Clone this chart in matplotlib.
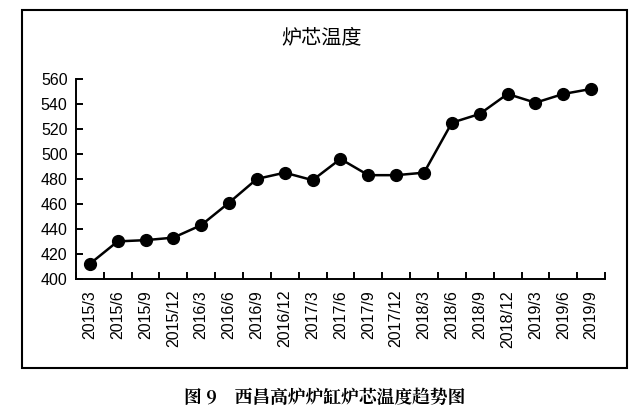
import matplotlib
matplotlib.use('Agg')
import matplotlib.pyplot as plt
from matplotlib.patches import Rectangle

plt.rcParams['font.family'] = ['Liberation Sans', 'Noto Sans CJK SC', 'DejaVu Sans']

# DATA
dates = ['2015/3', '2015/6', '2015/9', '2015/12', '2016/3', '2016/6', '2016/9',
         '2016/12', '2017/3', '2017/6', '2017/9', '2017/12', '2018/3', '2018/6',
         '2018/9', '2018/12', '2019/3', '2019/6', '2019/9']
temps = [412, 430, 431, 433, 443, 461, 480, 485, 479, 496, 483, 483, 485, 525,
         532, 548, 541, 548, 552]
yticks = [400, 420, 440, 460, 480, 500, 520, 540, 560]

fig = plt.figure(figsize=(6.43, 4.2), dpi=100)
ax = fig.add_axes([0.118, 0.336, 0.823, 0.476])

x = list(range(len(dates)))
ax.plot(x, temps, color='black', lw=1.8, marker='o', markersize=8.5)

ax.set_xlim(-0.5, len(dates) - 0.5)
ax.set_ylim(400, 560)
ax.set_yticks(yticks)
ax.set_xticks(x)
ax.set_xticklabels(dates, rotation=90, fontsize=11.5)
ax.set_xticks([i - 0.5 for i in range(len(dates) + 1)], minor=True)
ax.tick_params(axis='x', which='major', length=0, pad=8)
ax.tick_params(axis='x', which='minor', direction='in', length=5, width=1.4)
ax.tick_params(axis='y', direction='in', length=5, width=1.4, labelsize=11.5, pad=6)

for s in ['top', 'right']:
    ax.spines[s].set_visible(False)
for s in ['left', 'bottom']:
    ax.spines[s].set_linewidth(1.4)

# TITLE AND CAPTION
fig.text(0.5, 0.91, '炉芯温度', ha='center', va='center', fontsize=14.5,
         family=['Noto Sans CJK SC'])
fig.text(0.505, 0.053, '图 9　西昌高炉炉缸炉芯温度趋势图', ha='center', va='center',
         fontsize=12.8, fontweight='bold', family=['Noto Serif CJK SC', 'Noto Sans CJK SC'])

# OUTER FRAME
fig.patches.append(Rectangle((22 / 643, 1 - 368 / 420), 605 / 643, 358 / 420,
                             transform=fig.transFigure, fill=False,
                             edgecolor='black', lw=1.5))

fig.savefig('out.png', dpi=100)
